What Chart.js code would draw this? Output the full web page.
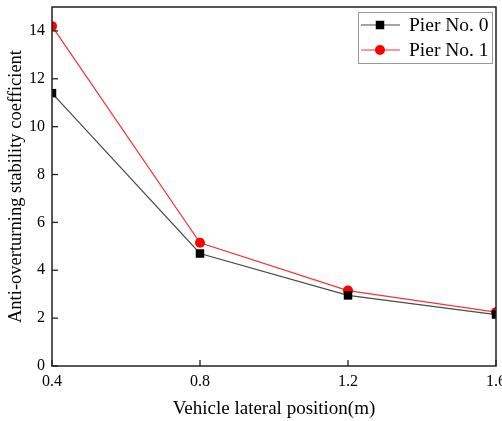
<!DOCTYPE html>
<html><head><meta charset="utf-8">
<script src="https://cdn.jsdelivr.net/npm/chart.js@4/dist/chart.umd.min.js"></script>
<style>html,body{margin:0;padding:0;background:#fff;overflow:hidden}#wrap{width:502px;height:421px}</style>
</head><body><div id="wrap"><canvas id="c" width="502" height="421"></canvas></div>
<script>
const positions = [0.4, 0.8, 1.2, 1.6];
const pier0 = [11.4, 4.7, 2.95, 2.15];
const pier1 = [14.2, 5.15, 3.15, 2.25];
const xTicks = [0.4, 0.8, 1.2, 1.6];
const yTicks = [0, 2, 4, 6, 8, 10, 12, 14];
const seriesNames = ['Pier No. 0', 'Pier No. 1'];

const FONT = 'Liberation Serif';

const framePlugin = {
  id: 'frame',
  afterDraw(chart) {
    const ctx = chart.ctx, a = chart.chartArea;
    ctx.save();
    ctx.strokeStyle = '#222';
    ctx.lineWidth = 1.5;
    ctx.strokeRect(a.left, a.top, a.right - a.left, a.bottom - a.top);
    // inward ticks
    ctx.lineWidth = 1.3;
    const xs = chart.scales.x, ys = chart.scales.y;
    xTicks.forEach(v => {
      const px = xs.getPixelForValue(v);
      ctx.beginPath(); ctx.moveTo(px, a.bottom); ctx.lineTo(px, a.bottom - 6); ctx.stroke();
    });
    yTicks.forEach(v => {
      const py = ys.getPixelForValue(v);
      ctx.beginPath(); ctx.moveTo(a.left, py); ctx.lineTo(a.left + 6, py); ctx.stroke();
    });
    // legend
    const lx = 358, ly = 12, lw = 134, lh = 51;
    ctx.strokeStyle = '#999';
    ctx.lineWidth = 1;
    ctx.strokeRect(lx + 0.5, ly + 0.5, lw, lh);
    chart.data.datasets.forEach((ds, i) => {
      const cy = ly + 13 + i * 25;
      ctx.strokeStyle = ds.borderColor;
      ctx.lineWidth = 1.2;
      ctx.beginPath(); ctx.moveTo(lx + 3, cy); ctx.lineTo(lx + 42, cy); ctx.stroke();
      ctx.fillStyle = ds.pointBackgroundColor;
      if (ds.pointStyle === 'rect') {
        ctx.fillRect(lx + 22 - 4.25, cy - 4.25, 8.5, 8.5);
      } else {
        ctx.beginPath(); ctx.arc(lx + 22, cy, 5, 0, Math.PI * 2); ctx.fill();
      }
      ctx.fillStyle = '#000';
      ctx.font = '19.5px "' + FONT + '"';
      ctx.textBaseline = 'middle';
      ctx.textAlign = 'left';
      ctx.fillText(ds.label, lx + 51, cy + 1);
    });
    ctx.restore();
  }
};

new Chart(document.getElementById('c'), {
  type: 'line',
  data: {
    datasets: [
      {
        label: seriesNames[0],
        data: positions.map((x, i) => ({x, y: pier0[i]})),
        borderColor: '#4a4a4a',
        backgroundColor: '#000',
        pointBackgroundColor: '#000',
        pointBorderColor: '#000',
        pointStyle: 'rect',
        pointRadius: 6,
        pointBorderWidth: 0,
        borderWidth: 1.2,
        tension: 0,
        clip: 0
      },
      {
        label: seriesNames[1],
        data: positions.map((x, i) => ({x, y: pier1[i]})),
        borderColor: '#ff3030',
        backgroundColor: '#ff0000',
        pointBackgroundColor: '#ff0000',
        pointBorderColor: '#ff0000',
        pointStyle: 'circle',
        pointRadius: 5,
        pointBorderWidth: 0,
        borderWidth: 1.2,
        tension: 0,
        clip: 0
      }
    ]
  },
  options: {
    responsive: false,
    animation: false,
    layout: { padding: { top: 7, right: 6, left: 0, bottom: 0 } },
    plugins: { legend: { display: false }, tooltip: { enabled: false } },
    scales: {
      x: {
        type: 'linear',
        min: 0.4, max: 1.6,
        afterBuildTicks(s) { s.ticks = xTicks.map(v => ({value: v})); },
        afterFit(s) { s.height = 55; s.paddingRight = 0; s.paddingLeft = 0; },
        grid: { display: false, drawTicks: false },
        border: { display: false },
        ticks: { color: '#000', font: { family: FONT, size: 16 }, padding: 6, maxRotation: 0, callback: v => v.toFixed(1) },
        title: { display: true, text: 'Vehicle lateral position(m)', color: '#000', font: { family: FONT, size: 19 }, padding: { top: 0, bottom: 1 } }
      },
      y: {
        type: 'linear',
        min: 0, max: 15,
        afterBuildTicks(s) { s.ticks = yTicks.map(v => ({value: v})); },
        afterFit(s) { s.width = 52; s.paddingTop = 0; s.paddingBottom = 0; },
        grid: { display: false, drawTicks: false },
        border: { display: false },
        ticks: { color: '#000', font: { family: FONT, size: 16 }, padding: 7, callback: v => String(v) },
        title: { display: true, text: 'Anti-overturning stability coefficient', color: '#000', font: { family: FONT, size: 18.5 }, padding: { top: 5, bottom: 0 } }
      }
    }
  },
  plugins: [framePlugin]
});
</script></body></html>
